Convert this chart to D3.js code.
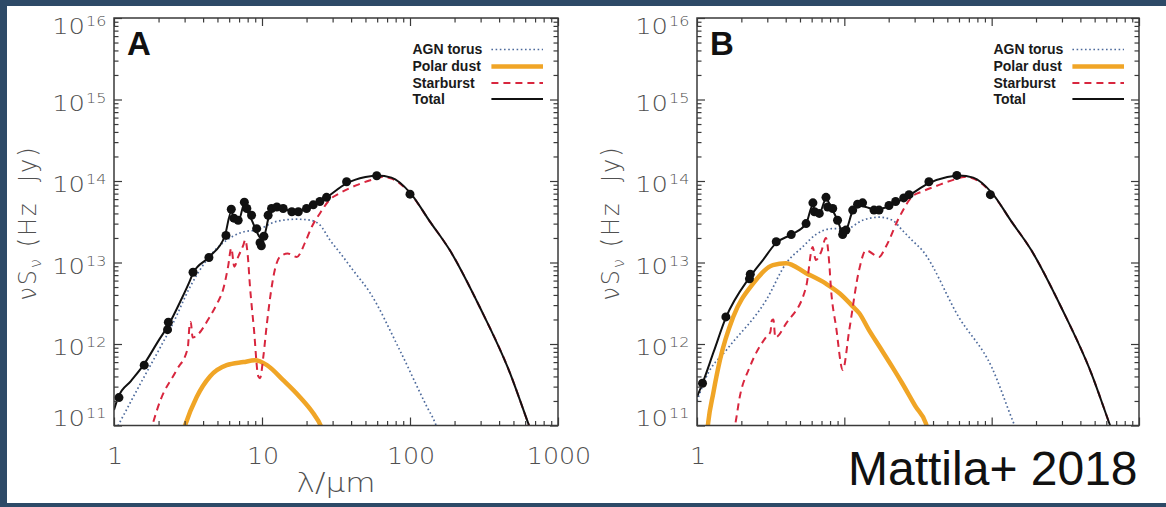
<!DOCTYPE html>
<html>
<head>
<meta charset="utf-8">
<script src="https://cdn.jsdelivr.net/npm/d3@7"></script>
<style>
  html, body { margin: 0; padding: 0; background: #2d4a67; }
  svg { display: block; }
  text { white-space: pre; }
</style>
</head>
<body>
<svg id="chart" width="1166" height="507"></svg>
<script>
// ---- axis ticks and labels ----
const wavelengthTicks = [1, 10, 100, 1000];
const fluxTicks = [1e11, 1e12, 1e13, 1e14, 1e15, 1e16];
const fluxTickExponents = ["11", "12", "13", "14", "15", "16"];
const legendLabels = ["AGN torus", "Polar dust", "Starburst", "Total"];

// ---- panel A: [wavelength (µm), νSν (Hz Jy)] ----
const pointsA = [
  [1.08, 2.2e11], [1.6, 5.5e11], [2.3, 1.5e12], [2.33, 1.85e12], [3.42, 7.6e12],
  [4.38, 1.15e13], [5.71, 2.15e13], [6.2, 4.5e13], [6.45, 3.5e13], [6.9, 3.3e13],
  [7.6, 5.5e13], [7.9, 4.6e13], [8.5, 3.8e13], [9.2, 2.6e13], [9.7, 1.75e13],
  [9.9, 1.6e13], [10.3, 2.1e13], [11.0, 3.8e13], [11.6, 4.6e13], [12.6, 4.8e13],
  [13.9, 4.6e13], [15.9, 4.2e13], [17.6, 4.2e13], [20.0, 4.6e13], [22.2, 5.1e13],
  [24.6, 5.6e13], [27.3, 6.3e13], [37.3, 9.8e13], [59.6, 1.16e14], [100, 6.9e13]
];
const totalA = [
  [1.0, 1.55e11], [1.07, 2.24e11], [1.3, 3.5e11], [1.58, 5.5e11], [2.0, 1.1e12],
  [2.33, 1.7e12], [2.8, 3.3e12], [3.26, 6.0e12], [3.42, 7.4e12], [4.4, 1.17e13],
  [5.6, 2.1e13], [6.2, 4.2e13], [6.5, 3.5e13], [7.0, 3.4e13], [7.6, 5.3e13],
  [8.0, 4.2e13], [8.6, 3.2e13], [9.3, 2.3e13], [9.8, 2.0e13], [10.4, 2.2e13],
  [11.1, 3.6e13], [11.8, 4.4e13], [12.6, 4.6e13], [14, 4.5e13], [16, 4.3e13],
  [18, 4.3e13], [20, 4.6e13], [24, 5.4e13], [28, 6.5e13], [37, 9.3e13],
  [50, 1.12e14], [60, 1.17e14], [75, 1.1e14], [100, 7.2e13], [136, 3.2e13],
  [186, 1.41e13], [297, 2.8e12], [474, 4.4e11], [637, 1.0e11], [700, 6.3e10]
];
const torusA = [
  [1.0, 8.0e10], [1.5, 3.2e11], [2.0, 8.3e11], [2.5, 1.78e12], [3.26, 5.0e12],
  [4.23, 1.07e13], [5.2, 1.62e13], [6.37, 2.1e13], [7.67, 2.4e13], [9.2, 2.5e13],
  [12.6, 3.2e13], [17.2, 3.4e13], [21.2, 3.3e13], [24.6, 2.9e13], [28.7, 1.9e13],
  [33.6, 1.32e13], [41.1, 8.1e12], [53.5, 4.3e12], [85, 8.5e11], [130, 1.7e11],
  [148, 1.07e11], [160, 7.1e10]
];
const polarA = [
  [2.9, 7.9e10], [3.02, 1.0e11], [3.62, 2.24e11], [4.45, 4.0e11], [5.77, 5.5e11],
  [7.5, 6.0e11], [8.96, 6.3e11], [10.8, 5.5e11], [13.9, 3.6e11], [18.0, 2.24e11],
  [22.2, 1.41e11], [24.9, 1.0e11], [26, 8.0e10]
];
const starburstA = [
  [1.75, 8.0e10], [2.05, 2.0e11], [2.65, 4.8e11], [3.15, 8.9e11], [3.25, 1.78e12],
  [3.3, 1.86e12], [3.4, 1.2e12], [3.6, 1.26e12], [4.4, 2.1e12], [5.0, 3.2e12],
  [5.45, 4.6e12], [5.9, 8.9e12], [6.2, 1.5e13], [6.5, 8.9e12], [6.9, 1.17e13],
  [7.5, 1.66e13], [7.7, 1.9e13], [8.0, 1.26e13], [8.3, 5.0e12], [8.8, 1.6e12],
  [9.44, 4.0e11], [9.7, 3.8e11], [10.2, 6.9e11], [10.8, 1.8e12], [11.3, 3.5e12],
  [12.2, 8.1e12], [13.2, 1.17e13], [14.9, 1.29e13], [17.2, 1.17e13], [19.5, 1.74e13],
  [21.7, 2.75e13], [24.6, 4.0e13], [28.7, 5.9e13], [33.6, 7.1e13], [43.6, 8.9e13],
  [56.6, 1.05e14], [65, 1.12e14], [75, 1.07e14], [100, 7.1e13], [136, 3.2e13],
  [186, 1.41e13], [297, 2.8e12], [474, 4.4e11], [637, 1.0e11], [700, 6.3e10]
];

// ---- panel B ----
const pointsB = [
  [1.09, 3.3e11], [1.57, 2.15e12], [2.27, 6.3e12], [2.3, 7.2e12], [3.45, 1.8e13],
  [4.36, 2.2e13], [5.5, 3.0e13], [6.12, 5.4e13], [6.27, 4.2e13], [6.76, 4.0e13],
  [7.51, 6.3e13], [7.71, 4.8e13], [8.34, 4.6e13], [8.99, 3.3e13], [9.74, 2.2e13],
  [9.85, 2.4e13], [10.26, 2.5e13], [11.4, 4.4e13], [12.3, 5.2e13], [13.3, 5.4e13],
  [15.9, 4.4e13], [17.2, 4.4e13], [20.1, 5.0e13], [22.3, 5.6e13], [25.3, 6.2e13],
  [27.5, 6.8e13], [37.5, 9.8e13], [58, 1.17e14], [98, 6.8e13]
];
const totalB = [
  [1.0, 2.24e11], [1.09, 3.3e11], [1.3, 8.1e11], [1.57, 2.1e12], [2.28, 6.6e12],
  [2.8, 1.07e13], [3.45, 1.74e13], [4.36, 2.2e13], [5.5, 3.0e13], [6.1, 5.0e13],
  [6.4, 4.1e13], [6.8, 4.1e13], [7.5, 6.0e13], [8.2, 4.6e13], [9.0, 3.3e13],
  [9.8, 2.3e13], [10.3, 2.5e13], [11.4, 4.3e13], [12.6, 5.0e13], [14, 4.8e13],
  [16, 4.5e13], [18, 4.6e13], [20, 4.9e13], [24, 5.8e13], [28, 6.8e13],
  [37, 9.3e13], [50, 1.12e14], [60, 1.17e14], [75, 1.1e14], [100, 7.2e13],
  [136, 3.2e13], [186, 1.41e13], [297, 2.8e12], [474, 4.4e11], [637, 1.0e11],
  [700, 6.3e10]
];
const torusB = [
  [1.0, 2.0e11], [1.16, 4.0e11], [1.59, 8.5e11], [2.96, 3.5e12], [4.03, 9.8e12],
  [5.2, 1.55e13], [6.4, 2.2e13], [8.3, 2.6e13], [10.3, 2.6e13], [13.3, 3.3e13],
  [17.3, 3.6e13], [21.2, 3.3e13], [24.7, 2.5e13], [28.5, 1.91e13], [33.8, 1.41e13],
  [59.8, 2.14e12], [100, 5.2e11], [141, 1.07e11], [155, 7.1e10]
];
const polarB = [
  [1.17, 7.9e10], [1.19, 1.07e11], [1.29, 2.5e11], [1.43, 6.3e11], [1.76, 2.14e12],
  [2.4, 5.5e12], [3.27, 9.3e12], [4.02, 9.8e12], [5.5, 7.4e12], [7.5, 5.5e12],
  [9.27, 4.2e12], [11.4, 2.9e12], [12.6, 2.4e12], [14.7, 1.48e12], [17.3, 9.3e11],
  [21.2, 5.2e11], [24.7, 3.3e11], [30.5, 1.7e11], [35.7, 1.07e11], [37.5, 7.9e10]
];
const starburstB = [
  [1.75, 7.9e10], [1.81, 1.0e11], [1.95, 2.24e11], [2.28, 5.2e11], [2.96, 1.23e12],
  [3.15, 1.41e12], [3.22, 1.95e12], [3.3, 2.0e12], [3.4, 1.2e12], [4.02, 1.78e12],
  [5.5, 5.0e12], [6.1, 1.55e13], [6.4, 1.07e13], [6.96, 1.35e13], [7.5, 2.0e13],
  [7.9, 9.8e12], [8.1, 5.0e12], [8.8, 1.6e12], [9.76, 4.8e11], [10.8, 1.48e12],
  [12.6, 8.1e12], [14.0, 1.41e13], [17.2, 1.17e13], [19.1, 1.55e13], [23.6, 3.6e13],
  [29.0, 6.5e13], [33.6, 7.4e13], [43.6, 8.9e13], [56.6, 1.05e14], [65, 1.12e14],
  [75, 1.07e14], [100, 7.1e13], [136, 3.2e13], [186, 1.41e13], [297, 2.8e12],
  [474, 4.4e11], [637, 1.0e11], [700, 6.3e10]
];

// ---- layout & styles ----
const W = 1166, H = 507;
const plotTop = 18, plotBottom = 425.5;
const COL = {
  frame: "#3a3a3a", tickText: "#505050",
  torus: "#4d6a9c", polar: "#f0a526", starburst: "#d8263e", total: "#111111"
};
const axisFont = "'DejaVu Sans', sans-serif";

const svg = d3.select("#chart");
svg.append("rect").attr("width", W).attr("height", H).attr("fill", "#2d4a67");
svg.append("rect").attr("x", 7).attr("y", 6).attr("width", W - 7).attr("height", 497).attr("fill", "#ffffff");

const panels = [
  { id: "A", left: 114, right: 558, points: pointsA, total: totalA, torus: torusA,
    polar: polarA, starburst: starburstA, xLabels: wavelengthTicks, xTitle: true },
  { id: "B", left: 697, right: 1139, points: pointsB, total: totalB, torus: torusB,
    polar: polarB, starburst: starburstB, xLabels: [1], xTitle: false }
];

// wide, light tick-label text: horizontally stretched glyphs
function wideText(sel, x, y, str, size, stretch, anchor) {
  return sel.append("text")
    .attr("transform", `translate(${x},${y}) scale(${stretch},1)`)
    .attr("text-anchor", anchor || "start")
    .attr("font-family", axisFont).attr("font-weight", 300)
    .attr("font-size", size).attr("fill", COL.tickText).text(str);
}

panels.forEach(p => {
  const x = d3.scaleLog().domain([1, 1000]).range([p.left, p.right]);
  const y = d3.scaleLog().domain([1e11, 1e16]).range([plotBottom, plotTop]);
  const g = svg.append("g");

  const clipId = "clip" + p.id;
  svg.append("clipPath").attr("id", clipId).append("rect")
    .attr("x", p.left).attr("y", plotTop)
    .attr("width", p.right - p.left).attr("height", plotBottom - plotTop);

  const line = d3.line().x(d => x(d[0])).y(d => y(d[1])).curve(d3.curveMonotoneX);
  const curves = g.append("g").attr("clip-path", `url(#${clipId})`);

  curves.append("path").attr("d", line(p.torus)).attr("fill", "none")
    .attr("stroke", COL.torus).attr("stroke-width", 1.7).attr("stroke-dasharray", "1.6 2.6");
  curves.append("path").attr("d", line(p.polar)).attr("fill", "none")
    .attr("stroke", COL.polar).attr("stroke-width", 4.5).attr("stroke-linejoin", "round");
  curves.append("path").attr("d", line(p.starburst)).attr("fill", "none")
    .attr("stroke", COL.starburst).attr("stroke-width", 2).attr("stroke-dasharray", "7 5");
  curves.append("path").attr("d", line(p.total)).attr("fill", "none")
    .attr("stroke", COL.total).attr("stroke-width", 2);

  curves.selectAll("circle").data(p.points).join("circle")
    .attr("cx", d => x(d[0])).attr("cy", d => y(d[1])).attr("r", 4.5)
    .attr("fill", "#111");

  // axes drawn with d3-axis, ticks pointing into the plot
  const xMinor = [];
  for (let dec = 1; dec < 1000; dec *= 10) for (let k = 2; k <= 9; k++) xMinor.push(dec * k);
  const yMinor = [];
  for (let dec = 1e11; dec < 1e16; dec *= 10) for (let k = 2; k <= 9; k++) yMinor.push(dec * k);

  const axisStyle = sel => {
    sel.select(".domain").remove();
    sel.selectAll("line").attr("stroke", COL.frame).attr("stroke-width", 1.2);
    sel.selectAll("text").remove();
  };
  const major = 8, minor = 4.5;
  g.append("g").attr("transform", `translate(0,${plotBottom})`)
    .call(d3.axisTop(x).tickValues(wavelengthTicks).tickSize(major)).call(axisStyle);
  g.append("g").attr("transform", `translate(0,${plotBottom})`)
    .call(d3.axisTop(x).tickValues(xMinor).tickSize(minor)).call(axisStyle);
  g.append("g").attr("transform", `translate(0,${plotTop})`)
    .call(d3.axisBottom(x).tickValues(wavelengthTicks).tickSize(major)).call(axisStyle);
  g.append("g").attr("transform", `translate(0,${plotTop})`)
    .call(d3.axisBottom(x).tickValues(xMinor).tickSize(minor)).call(axisStyle);
  g.append("g").attr("transform", `translate(${p.left},0)`)
    .call(d3.axisRight(y).tickValues(fluxTicks).tickSize(major)).call(axisStyle);
  g.append("g").attr("transform", `translate(${p.left},0)`)
    .call(d3.axisRight(y).tickValues(yMinor).tickSize(minor)).call(axisStyle);
  g.append("g").attr("transform", `translate(${p.right},0)`)
    .call(d3.axisLeft(y).tickValues(fluxTicks).tickSize(major)).call(axisStyle);
  g.append("g").attr("transform", `translate(${p.right},0)`)
    .call(d3.axisLeft(y).tickValues(yMinor).tickSize(minor)).call(axisStyle);

  g.append("rect").attr("x", p.left).attr("y", plotTop)
    .attr("width", p.right - p.left).attr("height", plotBottom - plotTop)
    .attr("fill", "none").attr("stroke", COL.frame).attr("stroke-width", 1.5);

  // y tick labels: 10 with superscript exponent
  fluxTicks.forEach((v, i) => {
    const cy = Math.min(Math.max(y(v) + 3, plotTop + 8), plotBottom - 8);
    const base = cy + 8;
    wideText(g, p.left - 29, base, "10", 21.5, 1.2, "end");
    wideText(g, p.left - 28, base - 8, fluxTickExponents[i], 14.5, 1.1, "start");
  });

  // x tick labels
  p.xLabels.forEach(v => {
    wideText(g, x(v) + 1, 464, String(v), 23, 1.1, "middle");
  });

  if (p.xTitle) {
    wideText(g, (p.left + p.right) / 2, 492, "λ/μm", 27, 1.15, "middle");
  }

  // y title
  const yt = g.append("text")
    .attr("transform", `translate(${p.left - 78},${223}) rotate(-90)`)
    .attr("text-anchor", "middle").attr("font-family", axisFont).attr("font-weight", 300)
    .attr("font-size", 24).attr("letter-spacing", 2).attr("fill", COL.tickText);
  yt.append("tspan").text("νS");
  yt.append("tspan").attr("font-size", 16).attr("dy", 5).text("ν");
  yt.append("tspan").attr("dy", -5).text(" (Hz  Jy)");

  // panel letter
  g.append("text").attr("x", p.left + 13).attr("y", 55)
    .attr("font-family", "'Liberation Sans Narrow', 'Liberation Sans', sans-serif")
    .attr("font-weight", "bold").attr("font-size", 33).attr("fill", "#111").text(p.id);

  // legend
  const legendStyles = [
    { stroke: COL.torus, width: 1.7, dash: "1.6 2.6" },
    { stroke: COL.polar, width: 4.5, dash: null },
    { stroke: COL.starburst, width: 2, dash: "7 5" },
    { stroke: COL.total, width: 2, dash: null }
  ];
  const rowBase = [54, 71, 87.5, 103.5];
  legendLabels.forEach((lab, i) => {
    g.append("text").attr("x", p.right - 145.6).attr("y", rowBase[i])
      .attr("font-family", "'Liberation Sans', Arial, sans-serif").attr("font-weight", "bold")
      .attr("font-size", 14).attr("fill", "#1a1a1a").text(lab);
    const s = legendStyles[i];
    g.append("line").attr("x1", p.right - 66.6).attr("x2", p.right - 15)
      .attr("y1", rowBase[i] - 4.5).attr("y2", rowBase[i] - 4.5)
      .attr("stroke", s.stroke).attr("stroke-width", s.width)
      .attr("stroke-dasharray", s.dash);
  });
});

svg.append("text").attr("x", 848).attr("y", 485)
  .attr("font-family", "'Liberation Sans', Arial, sans-serif")
  .attr("font-size", 48).attr("fill", "#111").text("Mattila+ 2018");
</script>
</body>
</html>
